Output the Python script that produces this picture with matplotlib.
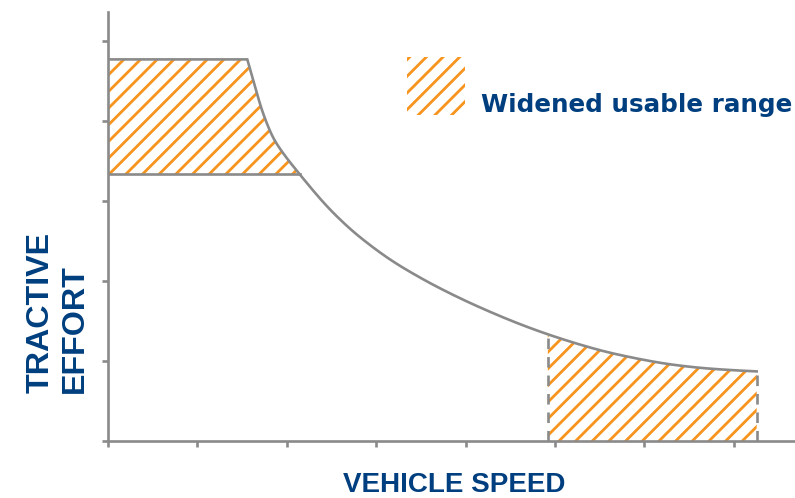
import numpy as np
import matplotlib
matplotlib.use('Agg')
import matplotlib.pyplot as plt
from matplotlib.patches import Rectangle

# tractive effort curve (speed in tick units)
speed = [0.0, 1.558, 1.644, 1.737, 1.849, 1.961, 2.140, 2.408, 2.595, 2.811, 3.154,
         3.527, 3.900, 4.273, 4.645, 5.037, 5.503, 5.876, 6.249, 6.622, 6.994, 7.256]
effort = [4.77, 4.77, 4.43, 4.09, 3.79, 3.595, 3.34, 2.985, 2.77, 2.555, 2.27,
          2.02, 1.805, 1.615, 1.445, 1.29, 1.135, 1.04, 0.965, 0.915, 0.885, 0.87]

low_speed_floor = 3.334         # lower edge of the low-speed hatched band
high_speed_start = 4.92         # left edge of the high-speed hatched band
x_ticks = list(range(8))
y_ticks = list(range(6))

legend_text = 'Widened usable range'
x_label = 'VEHICLE SPEED'
y_label = 'TRACTIVE\nEFFORT'

GRAY = '#8a8a8a'
ORANGE = '#f7941d'
NAVY = '#003f7f'

plt.rcParams['hatch.linewidth'] = 2.0


def smooth(px, py, n=40):
    # centripetal catmull-rom through the read points
    P = np.column_stack([px, py])
    P = np.vstack([2 * P[0] - P[1], P, 2 * P[-1] - P[-2]])
    out = []
    for i in range(1, len(P) - 2):
        p0, p1, p2, p3 = P[i - 1], P[i], P[i + 1], P[i + 2]
        t0 = 0.0
        t1 = t0 + np.linalg.norm(p1 - p0) ** 0.5
        t2 = t1 + np.linalg.norm(p2 - p1) ** 0.5
        t3 = t2 + np.linalg.norm(p3 - p2) ** 0.5
        for t in np.linspace(t1, t2, n, endpoint=False):
            a1 = (t1 - t) / (t1 - t0) * p0 + (t - t0) / (t1 - t0) * p1
            a2 = (t2 - t) / (t2 - t1) * p1 + (t - t1) / (t2 - t1) * p2
            a3 = (t3 - t) / (t3 - t2) * p2 + (t - t2) / (t3 - t2) * p3
            b1 = (t2 - t) / (t2 - t0) * a1 + (t - t0) / (t2 - t0) * a2
            b2 = (t3 - t) / (t3 - t1) * a2 + (t - t1) / (t3 - t1) * a3
            out.append((t2 - t) / (t2 - t1) * b1 + (t - t1) / (t2 - t1) * b2)
    out.append(P[-2])
    out = np.array(out)
    return out[:, 0], out[:, 1]


W, H = 795, 498
fig = plt.figure(figsize=(W / 100, H / 100), dpi=100)
ax = fig.add_axes([108 / W, (H - 441) / H, (W - 108) / W, (441 - 12) / H])
ax.set_xlim(0, (W - 108) / 89.4)
ax.set_ylim(0, (441 - 12) / 80)

cx, cy = smooth(speed[1:], effort[1:])
sx = np.concatenate([[speed[0]], cx])
sy = np.concatenate([[effort[0]], cy])
ax.plot(sx, sy, color=GRAY, lw=1.9, zorder=3, solid_joinstyle='miter')

# low-speed band between floor and curve
mask = sy >= low_speed_floor
ax.fill_between(sx[mask], low_speed_floor, sy[mask], facecolor='none', edgecolor=ORANGE,
                hatch='//', linewidth=0, zorder=2)
x_cross = np.interp(low_speed_floor, sy[::-1], sx[::-1])
ax.plot([0, x_cross], [low_speed_floor, low_speed_floor], color=GRAY, lw=1.9, zorder=3)

# high-speed band under curve
m2 = sx >= high_speed_start
hx = np.concatenate([[high_speed_start], sx[m2]])
hy = np.concatenate([[np.interp(high_speed_start, sx, sy)], sy[m2]])
ax.fill_between(hx, 0, hy, facecolor='none', edgecolor=ORANGE, hatch='//', linewidth=0, zorder=2)
for xv, yv in ((hx[0], hy[0]), (hx[-1], hy[-1])):
    ax.plot([xv, xv], [0, yv], color=GRAY, lw=1.9, ls=(0, (4, 3)), zorder=3)

# legend swatch
ax.add_patch(Rectangle((3.345, 4.075), 0.648, 0.725, facecolor='none', edgecolor=ORANGE,
                       hatch='//', linewidth=0))
ax.text(4.17, 4.2, legend_text, color=NAVY, fontsize=17.7, fontweight='bold',
        va='center', ha='left', family='DejaVu Sans')

for s in ('top', 'right'):
    ax.spines[s].set_visible(False)
for s in ('left', 'bottom'):
    ax.spines[s].set_color(GRAY)
    ax.spines[s].set_linewidth(1.9)
ax.set_xticks(x_ticks)
ax.set_yticks(y_ticks)
ax.tick_params(length=4, width=1.9, color=GRAY, labelbottom=False, labelleft=False)

fig.text(454 / W, 1 - 485 / H, x_label, color=NAVY, fontsize=20, fontweight='bold',
         ha='center', va='center', family=['Liberation Sans', 'DejaVu Sans'])
fig.text(58 / W, 1 - 393 / H, y_label, color=NAVY, fontsize=23.2, fontweight='bold',
         ha='center', va='bottom', rotation=90, multialignment='left',
         linespacing=1.2, family=['Liberation Sans', 'DejaVu Sans'])

fig.savefig('out.png', dpi=100)
